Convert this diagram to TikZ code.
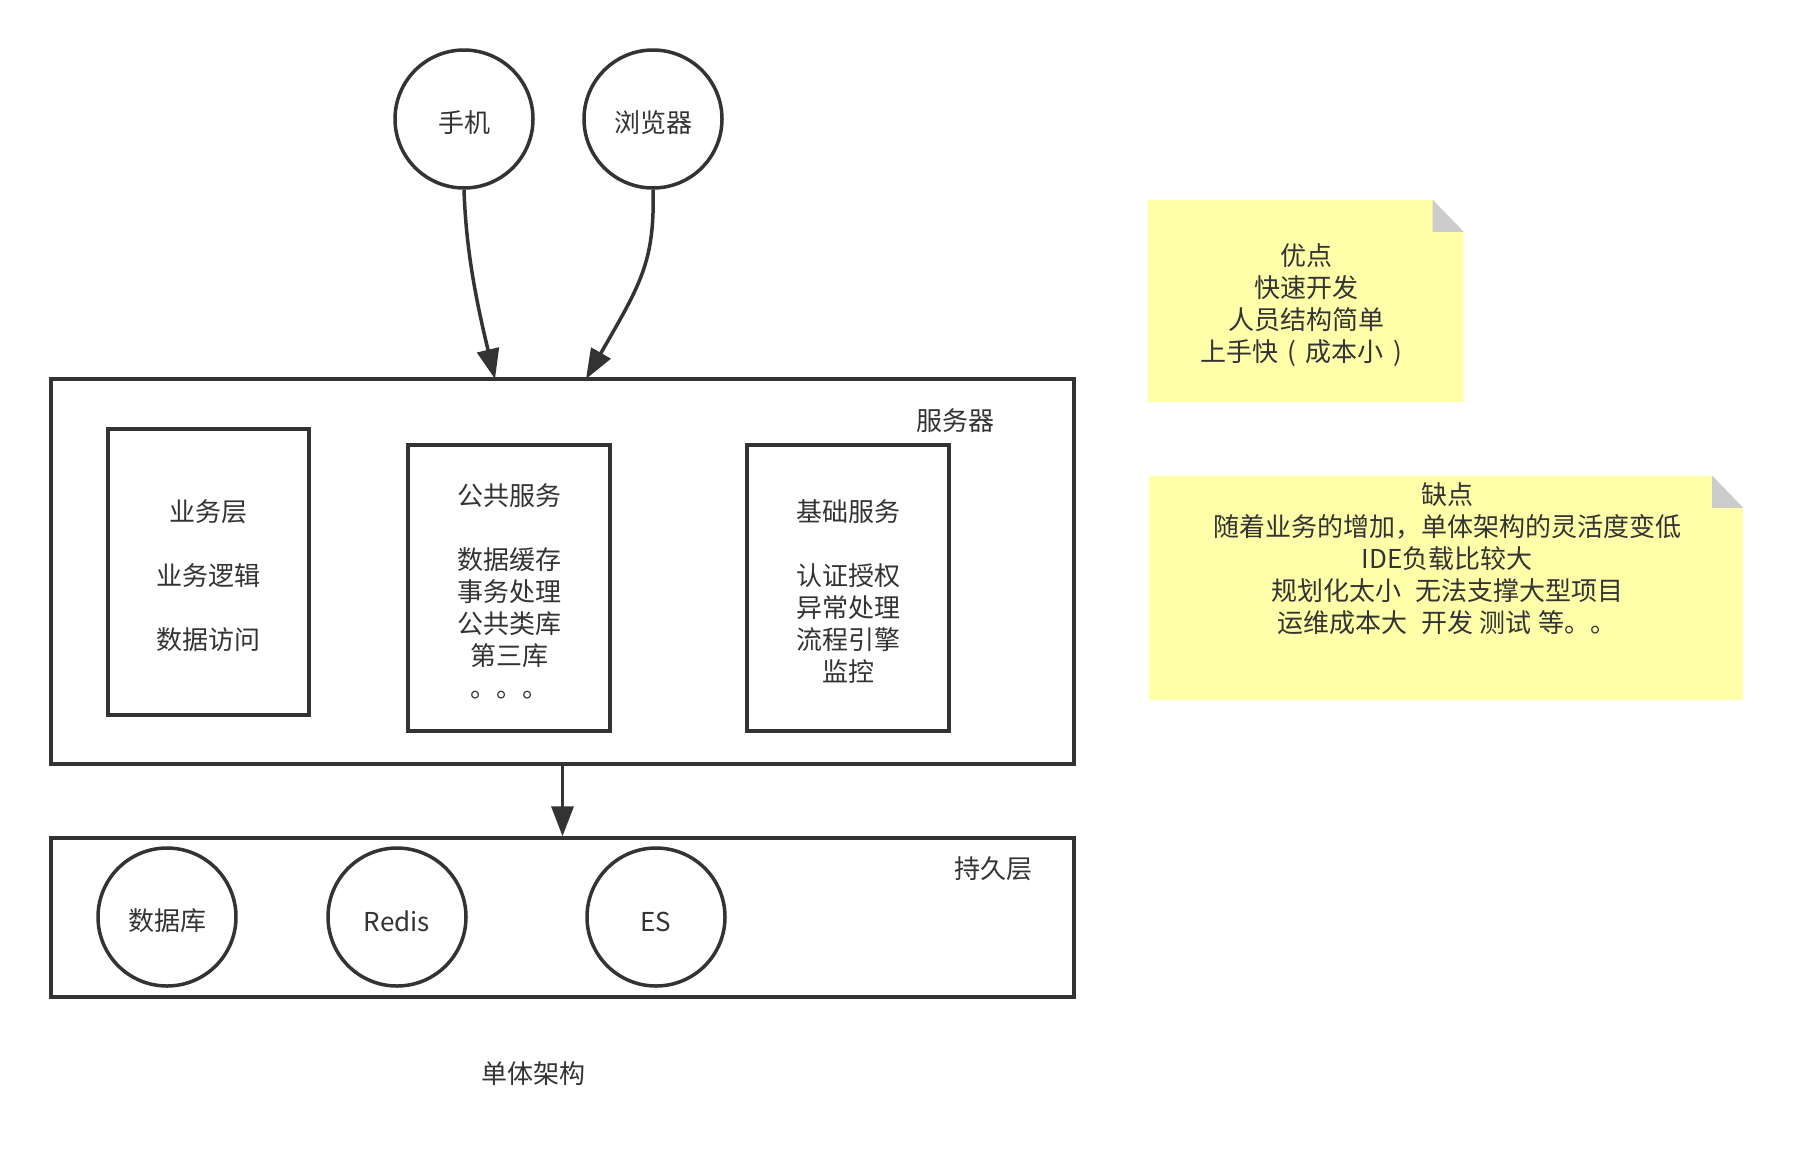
\documentclass[tikz,border=0pt]{standalone}
\usepackage{fontspec}
\setmainfont{Noto Sans CJK SC}
\usetikzlibrary{arrows.meta}
\definecolor{ink}{HTML}{333333}
\definecolor{noteyellow}{HTML}{FFFFAA}
\definecolor{foldgray}{HTML}{CCCCCC}
\newcommand\txtdown{\raisebox{7pt}{\vphantom{中}}}
\begin{document}
\begin{tikzpicture}[x=1pt,y=-1pt,
  every node/.style={text=ink, font=\fontsize{26}{32}\selectfont},
  box/.style={draw=ink, line width=3.5pt, rectangle, inner sep=0pt, align=center},
  circ/.style={draw=ink, line width=3.5pt, circle, minimum size=138pt, inner sep=0pt},
  conn/.style={draw=ink, line width=3.5pt, -{Triangle[length=30pt,width=22pt]}},
  lbl/.style={inner sep=0pt, align=center},
  notebox/.style={inner sep=0pt, draw=none}]
\useasboundingbox[fill=white] (0,0) rectangle (1793,1160);

% clients
\node[circ] (phone) at (464,119) {\txtdown 手机};
\node[circ] (browser) at (653,119) {\txtdown 浏览器};

% server
\node[box, minimum width=1023pt, minimum height=385pt] (server) at (562.5,571.5) {};
\node[lbl] (serverlbl) at (955,421) {服务器};
\node[box, minimum width=201pt, minimum height=286pt] (biz) at (208.5,572)
  {\txtdown 业务层\\[32pt]业务逻辑\\[32pt]数据访问};
\node[box, minimum width=202pt, minimum height=286pt] (common) at (509,588)
  {\txtdown 公共服务\\[32pt]数据缓存\\事务处理\\公共类库\\第三库\\。。。};
\node[box, minimum width=202pt, minimum height=286pt] (base) at (848,588)
  {\txtdown 基础服务\\[32pt]认证授权\\异常处理\\流程引擎\\监控};

% persistence
\node[box, minimum width=1023pt, minimum height=159pt] (persist) at (562.5,917.5) {};
\node[lbl] (persistlbl) at (993,869) {持久层};
\node[circ] (db) at (167,917) {\txtdown 数据库};
\node[circ] (redis) at (397,917) {\txtdown Redis};
\node[circ] (es) at (656,917) {\txtdown ES};

\node[lbl] (title) at (533,1074) {单体架构};

% connectors
\coordinate (srvA) at (495,379);
\coordinate (srvB) at (586,379);
\draw[conn] (phone.south) .. controls (466,250) and (476,300) .. (srvA);
\draw[conn] (browser.south) .. controls (655,262) and (640,285) .. (srvB);
\draw[conn] (server.south) -- (persist.north);

% note 1
\node[notebox, minimum width=316pt, minimum height=202pt] (pros) at (1305.5,301) {};
\fill[noteyellow] (pros.north west) -- ([xshift=-31pt]pros.north east)
  -- ([yshift=-32pt]pros.north east) -- (pros.south east) -- (pros.south west) -- cycle;
\fill[foldgray] ([xshift=-31pt]pros.north east) -- ([xshift=-31pt,yshift=-32pt]pros.north east)
  -- ([yshift=-32pt]pros.north east) -- cycle;
\node[lbl] (prostext) at (1306,305) {优点\\快速开发\\人员结构简单\\上手快\makebox[28pt]{(}成本小\makebox[28pt]{)}};

% note 2
\node[notebox, minimum width=594pt, minimum height=224pt] (cons) at (1446,588) {};
\fill[noteyellow] (cons.north west) -- ([xshift=-31pt]cons.north east)
  -- ([yshift=-32pt]cons.north east) -- (cons.south east) -- (cons.south west) -- cycle;
\fill[foldgray] ([xshift=-31pt]cons.north east) -- ([xshift=-31pt,yshift=-32pt]cons.north east)
  -- ([yshift=-32pt]cons.north east) -- cycle;
\node[lbl] (constext) at (1447,559) {缺点\\随着业务的增加，单体架构的灵活度变低\\IDE负载比较大\\规划化太小\hspace{14pt}无法支撑大型项目\\运维成本大\hspace{14pt}开发\hspace{7pt}测试\hspace{7pt}等。。};
\end{tikzpicture}
\end{document}
